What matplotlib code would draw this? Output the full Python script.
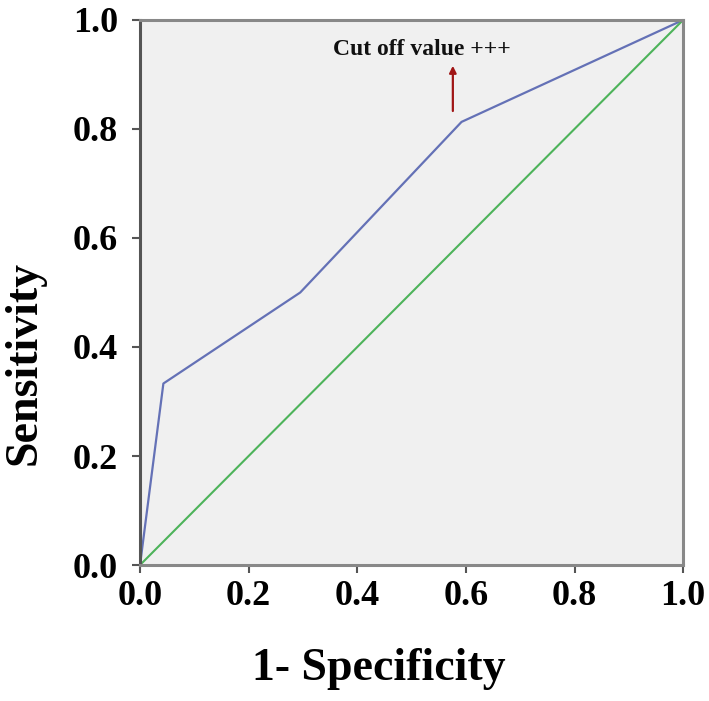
import matplotlib
matplotlib.use("Agg")
import matplotlib.pyplot as plt

# ROC curve data
fpr = [0.0, 0.043, 0.295, 0.592, 1.0]
tpr = [0.0, 0.333, 0.500, 0.813, 1.0]
ref_x = [0.0, 1.0]
ref_y = [0.0, 1.0]
tick_vals = [0.0, 0.2, 0.4, 0.6, 0.8, 1.0]
tick_labels = ["0.0", "0.2", "0.4", "0.6", "0.8", "1.0"]
annot_text = "Cut off value +++"

plt.rcParams['font.family'] = ['Liberation Serif', 'DejaVu Serif']
plt.rcParams['font.weight'] = 'bold'

fig = plt.figure(figsize=(7.09, 7.01), dpi=100)
ax = fig.add_axes([0.1975, 0.194, 0.766, 0.7775])
ax.set_facecolor('#f0f0f0')

ax.plot(fpr, tpr, color='#6471b6', lw=1.6, solid_joinstyle='round')
ax.plot(ref_x, ref_y, color='#4db35a', lw=1.5)

ax.set_xlim(0, 1)
ax.set_ylim(0, 1)
ax.set_xticks(tick_vals)
ax.set_xticklabels(tick_labels)
ax.set_yticks(tick_vals)
ax.set_yticklabels(tick_labels)
ax.tick_params(axis='both', direction='out', length=6, width=1.5, color='#555555',
               labelsize=26, labelcolor='black')
ax.tick_params(axis='x', pad=5)
ax.tick_params(axis='y', pad=10)
for lab in ax.get_xticklabels() + ax.get_yticklabels():
    lab.set_fontweight('bold')

for side, sp in ax.spines.items():
    sp.set_color('#888888')
    sp.set_linewidth(2.2)
ax.spines['left'].set_color('#555555')

ax.set_xlabel("1- Specificity", fontsize=33, fontweight='bold')
ax.set_ylabel("Sensitivity", fontsize=33, fontweight='bold')
ax.xaxis.set_label_coords(0.44, -0.19)
ax.xaxis.label.set_va('center')
ax.yaxis.set_label_coords(-0.212, 0.37)
ax.yaxis.label.set_va('center')

ax.text(0.519, 0.945, annot_text, fontsize=17, fontweight='bold',
        ha='center', va='center', color='#111111')
ax.annotate("", xy=(0.576, 0.916), xytext=(0.576, 0.833),
            arrowprops=dict(arrowstyle='-|>', color='#a01515', lw=1.6,
                            mutation_scale=10, shrinkA=0, shrinkB=0))

fig.savefig("out.png", dpi=100)
